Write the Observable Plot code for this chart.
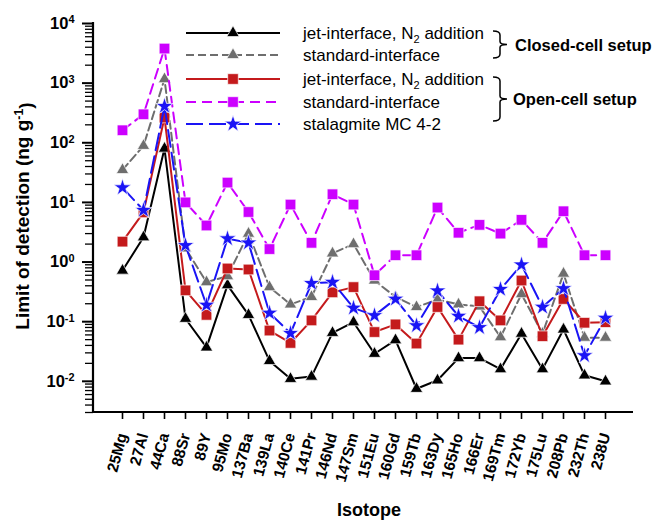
<!DOCTYPE html>
<html><head><meta charset="utf-8">
<script src="https://cdn.jsdelivr.net/npm/d3@7"></script>
<script src="https://cdn.jsdelivr.net/npm/@observablehq/plot@0.6"></script>
<style>
body{margin:0;background:#fff;}
</style></head><body><div id="chart"></div>
<script>
// ---- data ----
const isotopes = ["25Mg","27Al","44Ca","88Sr","89Y","95Mo","137Ba","139La","140Ce","141Pr","146Nd","147Sm","151Eu","160Gd","159Tb","163Dy","165Ho","166Er","169Tm","172Yb","175Lu","208Pb","232Th","238U"];
const jetClosed  = [0.72, 2.6, 80, 0.112, 0.037, 0.41, 0.13, 0.022, 0.011, 0.012, 0.065, 0.098, 0.029, 0.049, 0.0075, 0.0104, 0.0245, 0.0245, 0.016, 0.063, 0.016, 0.074, 0.0126, 0.010];
const stdClosed  = [35, 89, 1170, 1.7, 0.46, 0.58, 3.0, 0.38, 0.195, 0.26, 1.4, 2.0, 0.49, 0.26, 0.176, 0.234, 0.195, 0.18, 0.055, 0.29, 0.063, 0.64, 0.054, 0.054];
const jetOpen    = [2.2, 6.8, 265, 0.335, 0.13, 0.78, 0.75, 0.071, 0.044, 0.105, 0.31, 0.38, 0.067, 0.09, 0.043, 0.176, 0.05, 0.22, 0.105, 0.49, 0.057, 0.24, 0.096, 0.098];
const stdOpen    = [162, 300, 3800, 10, 4.1, 21.5, 6.9, 1.65, 9.2, 2.1, 13.7, 9.2, 0.6, 1.3, 1.3, 8.2, 3.1, 4.2, 3.0, 5.1, 2.1, 7.1, 1.3, 1.3];
const stalagmite = [17.7, 7.4, 410, 1.9, 0.19, 2.47, 2.1, 0.14, 0.064, 0.44, 0.46, 0.17, 0.127, 0.24, 0.086, 0.33, 0.124, 0.08, 0.35, 0.9, 0.176, 0.36, 0.027, 0.115];
const seriesLabels = ["jet-interface, N|2| addition", "standard-interface", "jet-interface, N|2| addition", "standard-interface", "stalagmite MC 4-2"];
const groupLabels = ["Closed-cell setup", "Open-cell setup"];
const majorTicks = [0.01, 0.1, 1, 10, 100, 1000, 10000];
const yDomain = [0.003, 10000];
const xTitle = "Isotope";
const yTitle = "Limit of detection (ng g";

// ---- styles ----
const seriesValues = [jetClosed, stdClosed, jetOpen, stdOpen, stalagmite];
const colors  = ["#000000", "#6e6e6e", "#c41a1c", "#cc00ff", "#1a14f5"];
const symbols = ["triangle", "triangle", "square", "square", "star"];
const d3syms  = [d3.symbolTriangle, d3.symbolTriangle, d3.symbolSquare, d3.symbolSquare, d3.symbolStar];
const radii   = [4.6, 4.6, 6.0, 6.0, 5.4];
const dashes  = [null, "8,4", null, "10,6", "17,6"];

const minorTicks = [];
for (let e = -3; e < 4; e++) for (let m = 2; m <= 9; m++) { const v = m * 10 ** e; if (v >= yDomain[0] && v <= yDomain[1]) minorTicks.push(v); }

const marks = [
  Plot.axisY({ticks: minorTicks, tickSize: 8, tickFormat: () => "", strokeWidth: 1.3, label: null}),
  Plot.axisY({ticks: majorTicks, tickSize: 11, tickPadding: 8, tickFormat: d => "10^" + Math.round(Math.log10(d)),
    fontSize: 16.5, fontWeight: "bold", strokeWidth: 2, label: null}),
  Plot.axisX({tickSize: 7, tickRotate: -75, tickPadding: 14, fontSize: 15.5, fontWeight: "bold", strokeWidth: 1.6, label: null})
];
seriesValues.forEach((vals, s) => {
  const data = isotopes.map((iso, i) => ({iso, v: vals[i]}));
  marks.push(Plot.line(data, {x: "iso", y: "v", stroke: colors[s], strokeWidth: 2, strokeDasharray: dashes[s] ?? undefined}));
  marks.push(Plot.dot(data, {x: "iso", y: "v", symbol: symbols[s], r: radii[s], fill: colors[s], stroke: "white", strokeWidth: 0.7}));
});

const chart = Plot.plot({
  width: 656, height: 521,
  marginLeft: 93, marginRight: 23, marginTop: 23, marginBottom: 109,
  style: {fontFamily: "'Liberation Sans', Arial, sans-serif", background: "white", color: "black"},
  x: {type: "point", domain: isotopes, padding: 1, label: null},
  y: {type: "log", domain: yDomain, label: null},
  marks
});
document.getElementById("chart").appendChild(chart);

// ---- post-processing ----
const svg = d3.select(chart);
svg.selectAll('g[aria-label="y-axis tick label"] text').each(function () {
  const t = d3.select(this); const s = t.text();
  if (!s.startsWith("10^")) return;
  t.text(null);
  t.append("tspan").text("10");
  t.append("tspan").attr("dy", "-0.5em").attr("font-size", "0.66em").text(s.slice(3));
});
const xr = chart.scale("x").range, yr = chart.scale("y").range;
const fLeft = Math.min(...xr), fRight = Math.max(...xr), fBottom = Math.max(...yr), fTop = Math.min(...yr);
svg.append("line").attr("x1", fLeft).attr("x2", fLeft).attr("y1", fTop - 1).attr("y2", fBottom + 1).attr("stroke", "black").attr("stroke-width", 2.2);
svg.append("line").attr("x1", fLeft).attr("x2", fRight).attr("y1", fBottom).attr("y2", fBottom).attr("stroke", "black").attr("stroke-width", 2.2);

const font = "'Liberation Sans', Arial, sans-serif";
// titles
svg.append("text").attr("x", 369).attr("y", 516).attr("text-anchor", "middle")
  .attr("font-family", font).attr("font-weight", "bold").attr("font-size", 18).text(xTitle);
const yt = svg.append("text").attr("transform", "translate(29,216) rotate(-90)").attr("text-anchor", "middle")
  .attr("font-family", font).attr("font-weight", "bold").attr("font-size", 19);
yt.append("tspan").text(yTitle);
yt.append("tspan").attr("dy", "-0.5em").attr("font-size", "0.65em").text("-1");
yt.append("tspan").attr("dy", "0.5em").text(")");

// legend
const lg = svg.append("g").attr("font-family", font).attr("text-anchor", "start");
const rowY = [33, 55, 79, 102, 124];
seriesLabels.forEach((lab, s) => {
  const y = rowY[s];
  lg.append("line").attr("x1", 186).attr("x2", 280).attr("y1", y).attr("y2", y)
    .attr("stroke", colors[s]).attr("stroke-width", 2).attr("stroke-dasharray", dashes[s]);
  lg.append("path").attr("transform", `translate(233,${y})`)
    .attr("d", d3.symbol(d3syms[s], Math.PI * radii[s] ** 2)())
    .attr("fill", colors[s]).attr("stroke", "white").attr("stroke-width", 0.7);
  const t = lg.append("text").attr("x", 303).attr("y", y + 6).attr("font-size", 17);
  const parts = lab.split("|");
  if (parts.length === 3) {
    t.append("tspan").text(parts[0]);
    t.append("tspan").attr("dy", 4).attr("font-size", 11).text(parts[1]);
    t.append("tspan").attr("dy", -4).text(parts[2]);
  } else t.text(lab);
});
function brace(y0, y1) {
  const ym = (y0 + y1) / 2;
  return `M493,${y0} Q500,${y0} 500,${y0 + 4} L500,${ym - 3} Q500,${ym} 507,${ym} Q500,${ym} 500,${ym + 3} L500,${y1 - 4} Q500,${y1} 493,${y1}`;
}
lg.append("path").attr("d", brace(31, 58)).attr("fill", "none").attr("stroke", "black").attr("stroke-width", 1.5);
lg.append("path").attr("d", brace(77, 121)).attr("fill", "none").attr("stroke", "black").attr("stroke-width", 1.5);
lg.append("text").attr("x", 515).attr("y", 51).attr("font-size", 16.5).attr("font-weight", "bold").text(groupLabels[0]);
lg.append("text").attr("x", 513).attr("y", 105).attr("font-size", 16.5).attr("font-weight", "bold").text(groupLabels[1]);
</script>
</body></html>
